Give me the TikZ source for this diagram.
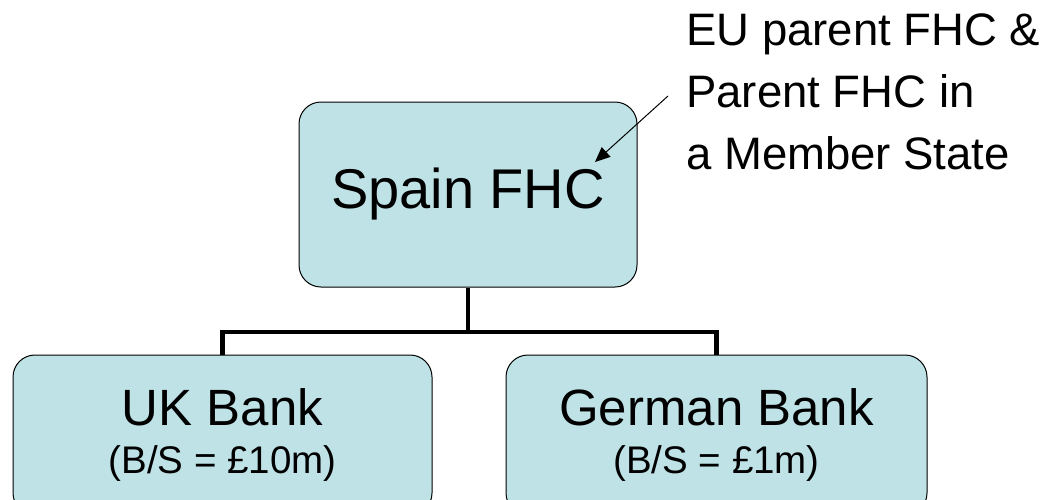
\documentclass[tikz,border=0pt]{standalone}
\usepackage{fontspec}
\setmainfont{Liberation Sans}
\usepackage{tikz}
\usetikzlibrary{arrows.meta}
\definecolor{boxfill}{RGB}{190,226,230}

\begin{document}
\begin{tikzpicture}[
  x=1pt, y=-1pt,
  every node/.style={inner sep=0pt},
  firmbox/.style={rectangle, draw=black, line width=1pt, fill=boxfill,
                  rounded corners=22pt, align=center},
  tree/.style={line width=4.5pt},
]
\useasboundingbox (0,0) rectangle (1051,499);
\node[firmbox, minimum width=338pt, minimum height=185pt,
      font=\fontsize{56}{60}\selectfont] (spain) at (468,194.5) {Spain FHC};
\node[firmbox, minimum width=419pt, minimum height=160pt,
      font=\fontsize{51}{52}\selectfont] (uk) at (222.5,435)
  {UK Bank\\[-4pt]{\fontsize{38.5}{44}\selectfont (B/S = £10m)}};
\node[firmbox, minimum width=421pt, minimum height=160pt,
      font=\fontsize{51}{52}\selectfont] (german) at (716.5,435)
  {German Bank\\[-4pt]{\fontsize{38.5}{44}\selectfont (B/S = £1m)}};
\node[anchor=north west, align=left, font=\fontsize{45.5}{62}\selectfont]
  (note) at (686,14) {EU parent FHC \&\\Parent FHC in\\a Member State};
\coordinate (bar) at (468,332);
\coordinate (from) at (668,96);
\coordinate (tip) at (595,162);
\draw[tree] (spain.south) -- (bar);
\draw[tree] (uk.north) |- (bar) -| (german.north);
\draw[line width=1pt, -{Triangle[length=15pt,width=13pt]}] (from) -- (tip);
\end{tikzpicture}
\end{document}
